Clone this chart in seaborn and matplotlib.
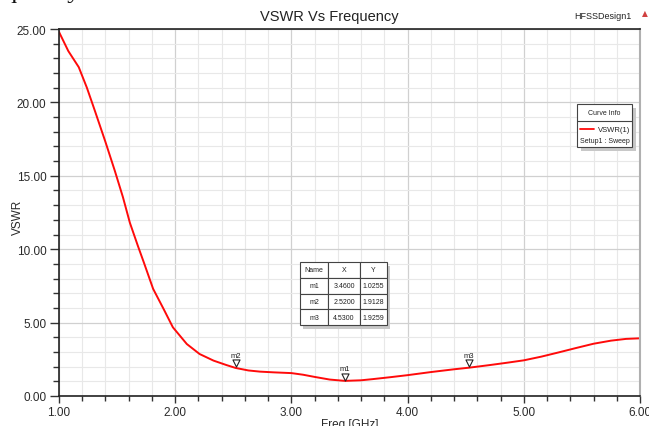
import matplotlib
matplotlib.use("Agg")
import matplotlib.pyplot as plt
import matplotlib.transforms as mtransforms
from matplotlib.patches import Rectangle
from matplotlib.ticker import MultipleLocator, FormatStrFormatter
import pandas as pd
import seaborn as sns

# VSWR curve
freq_ghz = [1.00, 1.08, 1.17, 1.24, 1.31, 1.40, 1.48, 1.55, 1.61, 1.68,
            1.73, 1.81, 1.90, 1.98, 2.10, 2.21, 2.33, 2.44, 2.52, 2.63,
            2.73, 2.85, 3.00, 3.10, 3.20, 3.33, 3.46, 3.60, 3.70, 3.85,
            4.00, 4.20, 4.40, 4.53, 4.70, 4.85, 5.00, 5.15, 5.30, 5.45,
            5.60, 5.75, 5.88, 6.00]
vswr = [24.8, 23.5, 22.4, 21.0, 19.4, 17.3, 15.35, 13.55, 11.8, 10.2,
        9.1, 7.3, 5.93, 4.68, 3.54, 2.86, 2.41, 2.11, 1.91, 1.74,
        1.66, 1.61, 1.56, 1.45, 1.3, 1.12, 1.03, 1.07, 1.15, 1.28,
        1.42, 1.63, 1.82, 1.93, 2.1, 2.26, 2.43, 2.68, 2.97, 3.27,
        3.56, 3.77, 3.89, 3.93]

# markers
marker_names = ["m1", "m2", "m3"]
marker_x = [3.46, 2.52, 4.53]
marker_y = [1.0255, 1.9128, 1.9259]

x_ticks = [1.0, 2.0, 3.0, 4.0, 5.0, 6.0]
y_ticks = [0.0, 5.0, 10.0, 15.0, 20.0, 25.0]

sns.set_theme(style="white")
plt.rcParams["font.family"] = ["Liberation Sans Narrow", "Liberation Sans", "DejaVu Sans"]

fig = plt.figure(figsize=(6.49, 4.27), dpi=100)
ax = fig.add_axes([59 / 649, 1 - 397 / 427, 581 / 649, 367 / 427])

df = pd.DataFrame({"Freq": freq_ghz, "VSWR": vswr})
sns.lineplot(data=df, x="Freq", y="VSWR", ax=ax, color="#ff0a0a",
             linewidth=1.4, estimator=None, sort=True)

ax.set_xlim(1.0, 6.0)
ax.set_ylim(0.0, 25.0)
ax.set_xticks(x_ticks)
ax.set_yticks(y_ticks)
ax.xaxis.set_minor_locator(MultipleLocator(0.2))
ax.yaxis.set_minor_locator(MultipleLocator(1.0))
ax.xaxis.set_major_formatter(FormatStrFormatter("%.2f"))
ax.yaxis.set_major_formatter(FormatStrFormatter("%.2f"))
ax.tick_params(which="both", direction="out", width=1, color="#333333",
               labelsize=8.5, labelcolor="#2a2a2a")
ax.tick_params(axis="y", which="major", length=6.5, pad=2.5, left=True)
ax.tick_params(axis="y", which="minor", length=4.3, left=True)
ax.tick_params(axis="x", which="major", length=5, pad=2, bottom=True)
ax.tick_params(axis="x", which="minor", length=3.5, bottom=True)

ax.grid(which="minor", color="#e8e8e8", linewidth=0.8)
ax.grid(which="major", color="#d0d0d0", linewidth=0.9)
ax.set_axisbelow(True)

for side in ["left", "bottom", "top"]:
    ax.spines[side].set_color("#222222")
    ax.spines[side].set_linewidth(1.2)
ax.spines["right"].set_color("#b0b0b0")
ax.spines["right"].set_linewidth(1.5)

ax.set_xlabel("Freq [GHz]", fontsize=8.5, labelpad=0.5, color="#2a2a2a")
ax.set_ylabel("VSWR", fontsize=8.5, color="#2a2a2a", va="center")
ax.yaxis.set_label_coords((17.5 - 59) / 581, 0.49)

fig.text(329 / 649, 1 - 17.5 / 427, "VSWR Vs Frequency", ha="center", va="center",
         fontsize=10.5, color="#222222")
fig.text(603 / 649, 1 - 16.5 / 427, "HFSSDesign1", ha="center", va="center",
         fontsize=6.5, color="#222222")
fig.text(645 / 649, 1 - 14 / 427, "\u25b2", ha="center", va="center",
         fontsize=5.5, color="#d04040", family=["DejaVu Sans"])
# descenders of the page text above the screenshot, mostly clipped
fig.text(4 / 649, 1 + 2.5 / 427, "quency", ha="left", va="baseline",
         fontsize=19, color="#111111", family=["Liberation Serif"])

# marker triangles and labels
tri_off = mtransforms.offset_copy(ax.transData, fig=fig, x=0, y=3.2, units="points")
lab_off = mtransforms.offset_copy(ax.transData, fig=fig, x=0, y=6.3, units="points")
ax.scatter(marker_x, marker_y, marker="v", s=26, facecolor="white",
           edgecolor="#222222", linewidth=0.8, transform=tri_off, zorder=5)
for name, mx, my in zip(marker_names, marker_x, marker_y):
    ax.text(mx, my, name, transform=lab_off, ha="center", va="bottom",
            fontsize=5.5, color="#222222")

# marker table
cell_rows = [["Name", "X", "Y"]] + [
    [n, f"{x:.4f}", f"{y:.4f}"] for n, x, y in zip(marker_names, marker_x, marker_y)]
tx0, tw, ty0, th = (300 - 59) / 581, (387 - 300) / 581, (397 - 326) / 367, 63 / 367
ax.add_patch(Rectangle((tx0 + 0.006, ty0 - 0.012), tw, th, transform=ax.transAxes,
                       facecolor="#c8c8c8", edgecolor="none", zorder=6))
tbl = ax.table(cellText=cell_rows, cellLoc="center",
               colWidths=[28 / 581, 32 / 581, 27 / 581],
               bbox=[tx0, ty0, tw, th], zorder=7)
tbl.auto_set_font_size(False)
tbl.set_fontsize(5)
for cell in tbl.get_celld().values():
    cell.set_edgecolor("#444444")
    cell.set_linewidth(0.8)
    cell.set_facecolor("white")
    cell.get_text().set_color("#222222")

# curve info box
lx0, lw = (577 - 59) / 581, (632 - 577) / 581
ly0, lh = (397 - 148) / 367, (148 - 105) / 367
ax.add_patch(Rectangle((lx0 + 0.007, ly0 - 0.012), lw, lh, transform=ax.transAxes,
                       facecolor="#c8c8c8", edgecolor="none", zorder=6))
ax.add_patch(Rectangle((lx0, ly0), lw, lh, transform=ax.transAxes,
                       facecolor="white", edgecolor="#444444", linewidth=0.8, zorder=7))
hy = (397 - 121.5) / 367
ax.plot([lx0, lx0 + lw], [hy, hy], transform=ax.transAxes, color="#444444",
        linewidth=0.8, zorder=8)
ax.text(lx0 + lw / 2, (397 - 113.5) / 367, "Curve Info", transform=ax.transAxes,
        ha="center", va="center", fontsize=5, color="#222222", zorder=8)
ax.plot([(580 - 59) / 581, (594 - 59) / 581], [(397 - 130) / 367] * 2,
        transform=ax.transAxes, color="#ff0a0a", linewidth=1.3, zorder=8)
ax.text((630 - 59) / 581, (397 - 130) / 367, "VSWR(1)", transform=ax.transAxes,
        ha="right", va="center", fontsize=5.5, color="#222222", zorder=8)
ax.text(lx0 + lw / 2, (397 - 141) / 367, "Setup1 : Sweep", transform=ax.transAxes,
        ha="center", va="center", fontsize=5, color="#222222", zorder=8)

plt.savefig("out.png", dpi=100)
plt.close()
